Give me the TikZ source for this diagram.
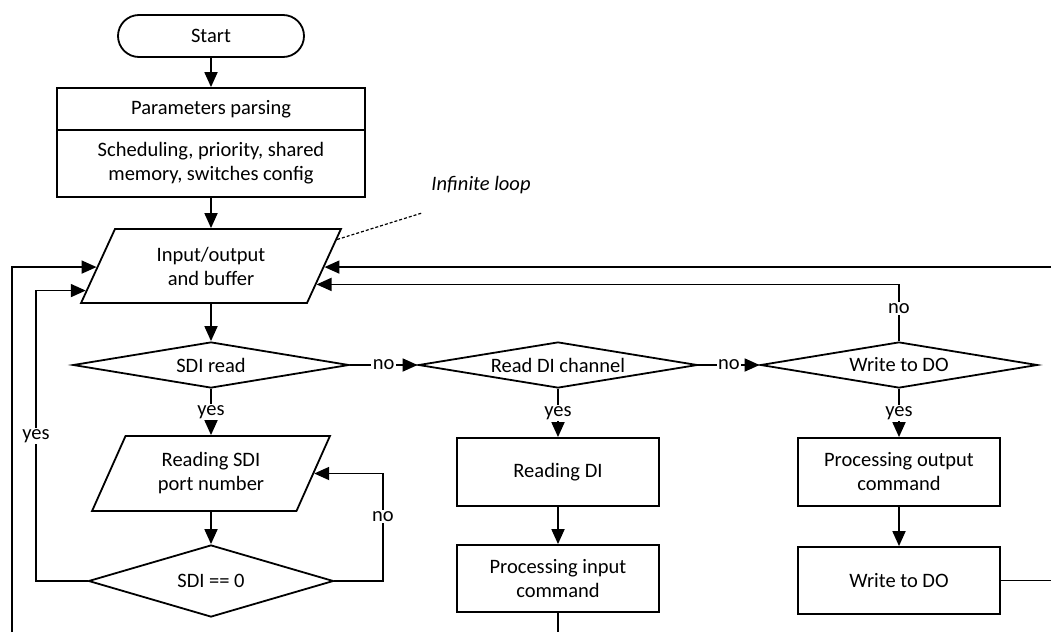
\documentclass[tikz,border=0pt]{standalone}
\usepackage{fontspec}
\setmainfont{Carlito}
\usetikzlibrary{shapes.geometric,arrows.meta,calc}
\begin{document}
\begin{tikzpicture}[x=1pt,y=-1pt, line width=1.8pt,
  font=\fontsize{20.5}{24}\selectfont,
  arr/.style={-{Triangle[length=15pt,width=13pt]}},
  box/.style={draw, rectangle, minimum width=202pt, minimum height=68pt, align=center, inner sep=2pt},
  dec/.style={draw, diamond, aspect=6, inner sep=0pt, minimum height=46pt},
  io/.style={draw, trapezium, trapezium left angle=63.4, trapezium right angle=116.6,
    trapezium stretches=true, align=center, inner sep=0pt, minimum height=74pt},
  lbl/.style={fill=white, inner sep=1.5pt}]
\useasboundingbox (0,0) rectangle (1051,632);

% nodes
\node[draw, rounded corners=21pt, minimum width=186pt, minimum height=42pt] (start) at (211,36) {Start};
\node[draw, minimum width=308pt, minimum height=42pt] (par1) at (211,109) {Parameters parsing};
\node[draw, minimum width=308pt, minimum height=67pt, align=center] (par2) at (211,163.5) {Scheduling, priority, shared\\memory, switches config};
\node[io, minimum width=260pt] (pio) at (211,266) {Input/output\\and buffer};
\node[dec, minimum width=276pt] (sdiread) at (211,365) {SDI read};
\node[io, minimum width=238pt, minimum height=75pt] (sdip) at (211,473.5) {Reading SDI\\port number};
\node[dec, minimum width=245pt, minimum height=72pt] (sdi0) at (211,581) {SDI == 0};
\node[dec, minimum width=279pt] (readdi) at (558,365) {Read DI channel};
\node[box] (rdi) at (558,472) {Reading DI};
\node[box, minimum height=67pt] (procin) at (558,578.5) {Processing input\\command};
\node[dec, minimum width=277pt] (wdo) at (899,365) {Write to DO};
\node[box] (procout) at (899,472) {Processing output\\command};
\node[box, minimum height=67pt] (wbox) at (899,580.5) {Write to DO};
\node[font=\fontsize{20.5}{24}\selectfont\itshape] (il) at (481,185) {Infinite loop};

% helper coordinates
\coordinate (pioL1) at ($(pio.bottom left corner)!0.486!(pio.top left corner)$);
\coordinate (pioL2) at ($(pio.bottom left corner)!0.176!(pio.top left corner)$);
\coordinate (pioR1) at ($(pio.bottom right corner)!0.486!(pio.top right corner)$);
\coordinate (pioR2) at ($(pio.bottom right corner)!0.257!(pio.top right corner)$);
\coordinate (pioD) at ($(pio.bottom right corner)!0.85!(pio.top right corner)$);
\coordinate (sdipR) at ($(sdip.bottom right corner)!0.5!(sdip.top right corner)$);
\coordinate (lx1) at (12,632);
\coordinate (lx2) at (36,0);
\coordinate (rx1) at (1051,0);
\coordinate (nx) at (383,0);
\coordinate (bot) at (0,632);
\coordinate (ilend) at (422,213);

% connectors
\draw[arr] (start) -- (par1);
\draw[arr] (par2) -- (pio);
\draw[arr] (pio) -- (sdiread);
\draw[arr] (sdiread) -- node[lbl]{no} (readdi);
\draw[arr] (readdi) -- node[lbl]{no} (wdo);
\draw[arr] (sdiread) -- node[lbl]{yes} (sdip);
\draw[arr] (readdi) -- node[lbl]{yes} (rdi);
\draw[arr] (wdo) -- node[lbl]{yes} (procout);
\draw[arr] (sdip) -- (sdi0);
\draw[arr] (rdi) -- (procin);
\draw[arr] (procout) -- (wbox);
\draw (procin) -- (procin |- bot);
\draw (wbox) -- (wbox -| rx1);
\draw[arr] (sdi0.east) -- (sdi0.east -| nx) -- node[lbl,pos=0.6]{no} (sdipR -| nx) -- (sdipR);
\draw[arr] (sdi0.west) -- (sdi0.west -| lx2) -- node[lbl,pos=0.5]{yes} (pioL2 -| lx2) -- (pioL2);
\draw[arr] (lx1) |- (pioL1);
\draw[arr] (pioR1 -| rx1) -- (pioR1);
\draw[arr] (wdo.north) -- node[lbl,pos=0.58]{no} (wdo.north |- pioR2) -- (pioR2);
\draw[line width=1.2pt, dash pattern=on 3pt off 2pt] (pioD) -- (ilend);
\end{tikzpicture}
\end{document}
